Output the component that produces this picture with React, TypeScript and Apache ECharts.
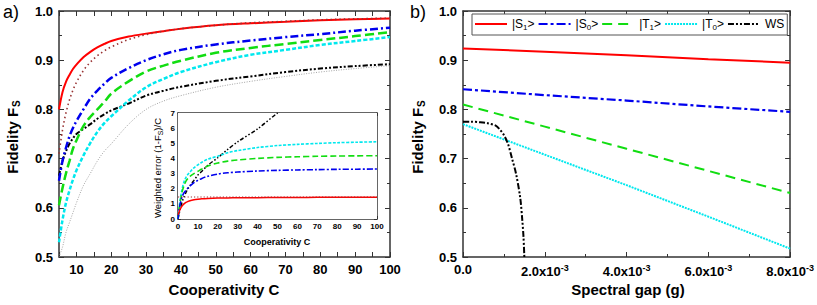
import React, { useEffect, useRef } from 'react';
import * as echarts from 'echarts';

// ---------- Panel a) main: fidelity vs cooperativity ----------
const C_MAIN = [5, 6, 7, 8, 9, 10, 12, 14, 16, 18, 20, 25, 30, 35, 40, 50, 60, 70, 80, 90, 100];
const A_S1 = [0.80, 0.835, 0.856, 0.870, 0.882, 0.891, 0.906, 0.917, 0.926, 0.933, 0.939, 0.948, 0.954, 0.959, 0.964, 0.971, 0.975, 0.978, 0.981, 0.983, 0.985];
const A_LIMIT = [0.71, 0.758, 0.793, 0.819, 0.839, 0.855, 0.879, 0.896, 0.909, 0.919, 0.927, 0.942, 0.952, 0.959, 0.964, 0.971, 0.976, 0.979, 0.982, 0.984, 0.9855];
const A_S0 = [0.655, 0.695, 0.722, 0.745, 0.762, 0.776, 0.80, 0.822, 0.838, 0.852, 0.864, 0.884, 0.900, 0.912, 0.921, 0.932, 0.940, 0.947, 0.953, 0.960, 0.966];
const A_T1 = [0.605, 0.64, 0.67, 0.695, 0.72, 0.737, 0.766, 0.785, 0.80, 0.815, 0.832, 0.857, 0.877, 0.889, 0.899, 0.915, 0.925, 0.933, 0.941, 0.949, 0.957];
const A_T0 = [0.53, 0.575, 0.61, 0.635, 0.657, 0.676, 0.706, 0.732, 0.754, 0.772, 0.786, 0.818, 0.845, 0.862, 0.876, 0.896, 0.911, 0.921, 0.931, 0.939, 0.947];
const A_WS = [0.665, 0.695, 0.715, 0.73, 0.741, 0.75, 0.76, 0.77, 0.781, 0.79, 0.798, 0.812, 0.828, 0.838, 0.846, 0.858, 0.867, 0.876, 0.883, 0.888, 0.892];
const A_GREY = [0.50, 0.52, 0.55, 0.57, 0.59, 0.61, 0.645, 0.67, 0.695, 0.715, 0.73, 0.77, 0.80, 0.817, 0.828, 0.845, 0.857, 0.867, 0.876, 0.883, 0.889];

// ---------- Panel a) inset: weighted error ----------
const C_INSET = [0, 0.5, 1, 2, 3, 4, 5, 6, 8, 10, 12, 15, 20, 25, 30, 40, 50, 60, 70, 80, 90, 100];
const I_S1 = [0.29, 0.45, 0.62, 0.85, 1.0, 1.1, 1.16, 1.21, 1.27, 1.31, 1.34, 1.36, 1.38, 1.39, 1.40, 1.41, 1.42, 1.42, 1.43, 1.43, 1.43, 1.43];
const C_INSET_LIMIT = [0, 100];
const I_LIMIT = [1.45, 1.45];
const I_S0 = [0, 0.55, 0.95, 1.45, 1.72, 1.9, 2.05, 2.18, 2.4, 2.55, 2.68, 2.82, 2.97, 3.05, 3.1, 3.17, 3.21, 3.24, 3.26, 3.28, 3.29, 3.3];
const I_T1 = [0, 0.6, 1.05, 1.75, 2.2, 2.5, 2.68, 2.82, 3.0, 3.15, 3.3, 3.5, 3.7, 3.82, 3.9, 4.0, 4.07, 4.11, 4.14, 4.16, 4.17, 4.18];
const I_T0 = [0, 0.7, 1.2, 1.95, 2.45, 2.75, 2.95, 3.1, 3.38, 3.58, 3.75, 3.95, 4.15, 4.38, 4.52, 4.72, 4.85, 4.93, 4.99, 5.04, 5.07, 5.1];
const C_INSET_WS = [0, 0.5, 1, 2, 3, 4, 5, 6, 8, 10, 12, 15, 20, 25, 30, 40, 50, 60];
const I_WS = [0, 0.3, 0.6, 1.1, 1.45, 1.75, 2.0, 2.2, 2.55, 2.9, 3.15, 3.55, 4.05, 4.6, 5.1, 5.95, 7.0, 7.9];

// ---------- Panel b): fidelity vs spectral gap ----------
const G = [0, 0.002, 0.004, 0.006, 0.008];
const B_S1 = [0.924, 0.917, 0.910, 0.902, 0.895];
const B_S0 = [0.841, 0.829, 0.818, 0.806, 0.795];
const B_T1 = [0.810, 0.765, 0.720, 0.675, 0.630];
const B_T0 = [0.770, 0.708, 0.646, 0.582, 0.517];
const G_WS = [0, 0.0002, 0.0004, 0.0006, 0.0008, 0.0009, 0.001, 0.0011, 0.0012, 0.0013, 0.0014, 0.00145, 0.00148, 0.0015];
const B_WS = [0.775, 0.775, 0.774, 0.772, 0.767, 0.759, 0.748, 0.730, 0.70, 0.668, 0.62, 0.575, 0.54, 0.50];

const LEGEND_NAMES = ['S1', 'S0', 'T1', 'T0', 'WS'];

const FONT = 'Liberation Sans';
const AXC = '#333';

const pairs = (xs: number[], ys: number[]) => xs.map((x, i) => [x, ys[i]]);

function xAxes(gi: number, min: number, max: number, interval: number, minor: number, fmt: any, size: number, margin: number, rich?: any) {
  const base: any = {
    type: 'value', gridIndex: gi, min, max, interval,
    axisLine: { show: true, onZero: false, lineStyle: { color: AXC, width: 1.5 } },
    axisTick: { show: true, inside: true, length: size > 10 ? 5 : 3, lineStyle: { color: AXC, width: 1 } },
    minorTick: { show: minor > 1, splitNumber: minor, length: size > 10 ? 3 : 2, lineStyle: { color: AXC, width: 1 } },
    splitLine: { show: false },
    minorSplitLine: { show: false },
  };
  return [
    { ...base, position: 'bottom', axisLabel: { show: true, formatter: fmt, fontFamily: FONT, fontWeight: 'bold', fontSize: size, color: '#000', margin, rich, hideOverlap: false } },
    { ...base, position: 'top', axisLabel: { show: false } },
  ];
}

function yAxes(gi: number, min: number, max: number, interval: number, minor: number, fmt: any, size: number, margin: number) {
  const base: any = {
    type: 'value', gridIndex: gi, min, max, interval,
    axisLine: { show: true, onZero: false, lineStyle: { color: AXC, width: 1.5 } },
    axisTick: { show: true, inside: true, length: size > 10 ? 5 : 3, lineStyle: { color: AXC, width: 1 } },
    minorTick: { show: minor > 1, splitNumber: minor, length: size > 10 ? 3 : 2, lineStyle: { color: AXC, width: 1 } },
    splitLine: { show: false },
    minorSplitLine: { show: false },
  };
  return [
    { ...base, position: 'left', axisLabel: { show: true, formatter: fmt, fontFamily: FONT, fontWeight: 'bold', fontSize: size, color: '#000', margin } },
    { ...base, position: 'right', axisLabel: { show: false } },
  ];
}

function line(name: string, xi: number, data: any[], color: string, width: number, type: any, smooth: any = 0.35, z = 3) {
  return {
    type: 'line', name, xAxisIndex: xi, yAxisIndex: xi, data,
    showSymbol: false, symbol: 'none', smooth, clip: true, z,
    lineStyle: { color, width, type, cap: 'butt' },
    itemStyle: { color },
    emphasis: { disabled: true },
  };
}

const sup = { fontSize: 9, fontWeight: 'bold', fontFamily: FONT, color: '#000', padding: [0, 0, 8, 0] };

function buildOption(): any {
  const xA = [
    ...xAxes(0, 5, 100, 5, 0, (v: number) => (v % 10 === 0 ? String(v) : ''), 13, 6),
    ...xAxes(1, 0, 0.008, 0.002, 2, (v: number) => (v === 0 ? '0.0' : (v * 1000).toFixed(1) + 'x10{sup|-3}'), 13, 6, { sup }),
    ...xAxes(2, 0, 100, 10, 2, (v: number) => String(v), 8, 3),
  ];
  const yA = [
    ...yAxes(0, 0.5, 1.0, 0.1, 2, (v: number) => v.toFixed(1), 13, 6),
    ...yAxes(1, 0.5, 1.0, 0.1, 2, (v: number) => v.toFixed(1), 13, 6),
    ...yAxes(2, 0, 7, 1, 2, (v: number) => String(v), 8, 3),
  ];

  const series: any[] = [
    // panel a main
    line('a-grey', 0, pairs(C_MAIN, A_GREY), '#9a9a9a', 0.9, [1, 1.5]),
    line('a-WS', 0, pairs(C_MAIN, A_WS), '#000000', 2, [5, 2, 2, 2, 2, 2]),
    line('a-T0', 0, pairs(C_MAIN, A_T0), '#00e8ee', 2.5, [4, 2]),
    line('a-T1', 0, pairs(C_MAIN, A_T1), '#11dd11', 2.5, [9, 4]),
    line('a-S0', 0, pairs(C_MAIN, A_S0), '#0000ee', 2.5, [8, 3, 2, 3]),
    line('a-S1', 0, pairs(C_MAIN, A_S1), '#ff0000', 2, 'solid'),
    line('a-limit', 0, pairs(C_MAIN, A_LIMIT), '#993333', 1.6, [1.5, 3]),
    // panel b
    line('S1', 2, pairs(G, B_S1), '#ff0000', 2, 'solid', false),
    line('S0', 2, pairs(G, B_S0), '#0000ee', 2.2, [9, 3, 3, 3], false),
    line('T1', 2, pairs(G, B_T1), '#11dd11', 2, [10, 6], false),
    line('T0', 2, pairs(G, B_T0), '#00e8ee', 2, [2, 1], false),
    line('WS', 2, pairs(G_WS, B_WS), '#000000', 2, [6, 2, 2, 2, 2, 2], 0.3),
    // inset
    line('i-WS', 4, pairs(C_INSET_WS, I_WS), '#000000', 1.5, [4, 2, 1.5, 2, 1.5, 2], 0.3, 5),
    line('i-T0', 4, pairs(C_INSET, I_T0), '#00e8ee', 1.6, [3, 1.5], 0.3, 5),
    line('i-T1', 4, pairs(C_INSET, I_T1), '#11dd11', 1.6, [6, 3], 0.3, 5),
    line('i-S0', 4, pairs(C_INSET, I_S0), '#0000ee', 1.6, [6, 2, 2, 2], 0.3, 5),
    line('i-S1', 4, pairs(C_INSET, I_S1), '#ff0000', 1.5, 'solid', 0.3, 5),
    line('i-limit', 4, pairs(C_INSET_LIMIT, I_LIMIT), '#993333', 1.1, [1.2, 2], false, 5),
  ];

  const subS = { fontFamily: FONT, fontWeight: 'bold', fontSize: 10, fill: '#000', padding: [9, 0, 0, 1] };

  const graphic: any[] = [
    { type: 'text', left: 3, top: 3, style: { text: 'a)', font: '18px ' + FONT, fill: '#000' } },
    { type: 'text', left: 410, top: 3, style: { text: 'b)', font: '18px ' + FONT, fill: '#000' } },
    {
      type: 'text', x: 12, y: 137, rotation: Math.PI / 2,
      style: {
        text: '{m|Fidelity F}{s|S}', align: 'center', verticalAlign: 'middle',
        rich: { m: { fontFamily: FONT, fontWeight: 'bold', fontSize: 15, fill: '#000' }, s: subS },
      },
    },
    {
      type: 'text', x: 417, y: 137, rotation: Math.PI / 2,
      style: {
        text: '{m|Fidelity F}{s|S}', align: 'center', verticalAlign: 'middle',
        rich: { m: { fontFamily: FONT, fontWeight: 'bold', fontSize: 15, fill: '#000' }, s: subS },
      },
    },
    { type: 'text', x: 224, y: 289, style: { text: 'Cooperativity C', align: 'center', verticalAlign: 'middle', font: 'bold 15px ' + FONT, fill: '#000' } },
    { type: 'text', x: 628, y: 289, style: { text: 'Spectral gap (g)', align: 'center', verticalAlign: 'middle', font: 'bold 15px ' + FONT, fill: '#000' } },
    { type: 'text', x: 277, y: 242, z: 10, style: { text: 'Cooperativity C', align: 'center', verticalAlign: 'middle', font: 'bold 9px ' + FONT, fill: '#000' } },
    {
      type: 'text', x: 157, y: 168, rotation: Math.PI / 2, z: 10,
      style: {
        text: '{m|Weighted error (1-F}{s|S}{m|)/C}', align: 'center', verticalAlign: 'middle',
        rich: {
          m: { fontFamily: FONT, fontSize: 9.5, fill: '#000' },
          s: { fontFamily: FONT, fontSize: 7, fill: '#000', padding: [6, 0, 0, 0] },
        },
      },
    },
  ];

  return {
    animation: false,
    backgroundColor: '#ffffff',
    textStyle: { fontFamily: FONT },
    grid: [
      { left: 59, top: 11, width: 331, height: 246, containLabel: false },
      { left: 463, top: 11, width: 329, height: 246, containLabel: false },
      { left: 178, top: 113, width: 199, height: 106, containLabel: false, show: true, backgroundColor: '#ffffff', borderWidth: 0, z: 4 },
    ],
    xAxis: xA,
    yAxis: yA,
    legend: {
      data: LEGEND_NAMES,
      left: 472, top: 14,
      orient: 'horizontal',
      padding: [4, 3, 4, 2],
      itemWidth: 32, itemHeight: 12, itemGap: 3,
      borderColor: '#555', borderWidth: 1, borderRadius: 0,
      backgroundColor: '#ffffff',
      selectedMode: false,
      itemStyle: { color: 'rgba(0,0,0,0)', borderColor: 'rgba(0,0,0,0)', borderWidth: 0 },
      formatter: (n: string) => (n === 'WS' ? 'WS' : '|' + n[0] + '{sub|' + n[1] + '}>'),
      textStyle: {
        fontFamily: FONT, fontSize: 12, color: '#000',
        rich: { sub: { fontFamily: FONT, fontSize: 8, color: '#000', padding: [6, 0, 0, 0] } },
      },
    },
    series,
    graphic,
  };
}

export default function App() {
  const ref = useRef<HTMLDivElement>(null);
  useEffect(() => {
    document.body.style.margin = '0';
    const chart = echarts.init(ref.current as HTMLDivElement, null, { renderer: 'svg' });
    chart.setOption(buildOption());
    return () => chart.dispose();
  }, []);
  return <div ref={ref} style={{ width: 817, height: 305 }} />;
}
